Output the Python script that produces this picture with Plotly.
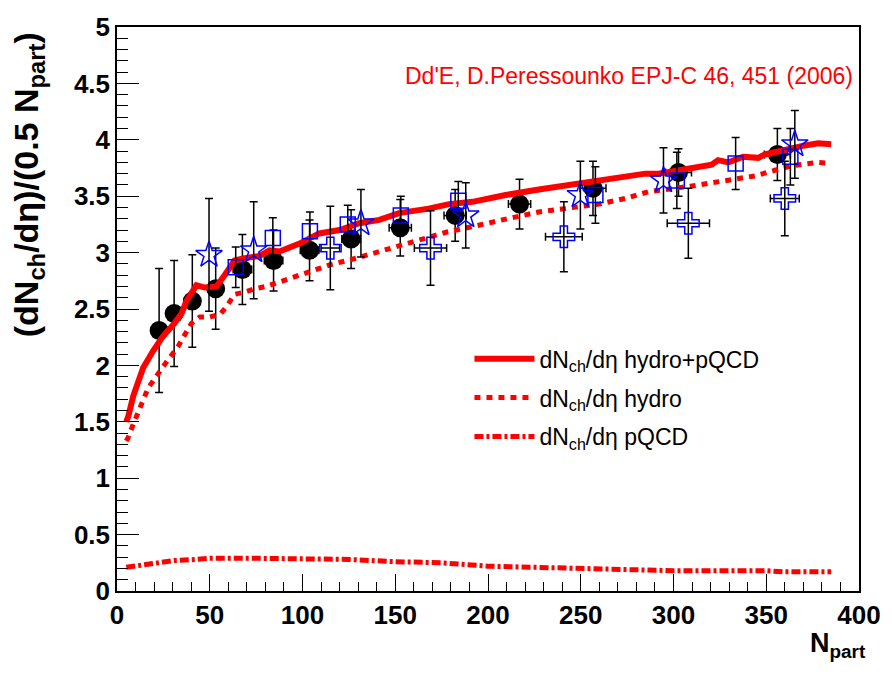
import plotly.graph_objects as go

# ---------------- data ----------------
# black filled circles
circ_x = [22.7, 30.8, 40.6, 53.2, 67.6, 84.4, 103.8, 126.2, 152.7, 182.3, 217.0, 256.6, 302.7, 356.0]
circ_y = [2.31, 2.46, 2.57, 2.68, 2.85, 2.93, 3.02, 3.12, 3.22, 3.33, 3.43, 3.57, 3.71, 3.87]
circ_ey = [0.55, 0.47, 0.41, 0.36, 0.31, 0.27, 0.27, 0.26, 0.25, 0.23, 0.22, 0.24, 0.21, 0.23]
circ_ex = [3, 3, 4, 4, 5, 5, 5, 5, 6, 6, 6, 7, 7, 7]

# blue open stars
star_x = [49.6, 73.7, 131.5, 188.0, 249.8, 294.6, 365.4]
star_y = [2.98, 3.02, 3.26, 3.33, 3.51, 3.64, 3.96]
star_ey = [0.50, 0.43, 0.30, 0.29, 0.30, 0.29, 0.30]

# blue open squares
sq_x = [64.0, 84.0, 104.0, 124.4, 153.0, 184.0, 257.9, 301.8, 333.5, 363.0]
sq_y = [2.87, 3.13, 3.19, 3.25, 3.33, 3.46, 3.51, 3.64, 3.79, 3.85]
sq_ey = [0.18, 0.18, 0.17, 0.17, 0.17, 0.17, 0.25, 0.25, 0.23, 0.25]

# blue open crosses
cr_x = [115.0, 169.0, 240.9, 308.0, 360.0]
cr_y = [3.04, 3.04, 3.14, 3.26, 3.48]
cr_ey = [0.37, 0.33, 0.31, 0.31, 0.33]
cr_ex = [5.0, 8.7, 9.9, 11.4, 7.8]

# hydro + pQCD (solid)
tot_x = [5, 6.1, 8.8, 14.1, 19.5, 24.9, 30.3, 34.8, 37.4, 42.8, 47.3, 53.6, 58, 63.4, 68.8,
         76.9, 82.3, 87.6, 98.4, 109, 120, 130.6, 141.4, 152, 168, 179, 191.6, 202, 209.5,
         227.4, 243.5, 254, 270.4, 284.8, 292, 308, 320.6, 324, 329.6, 337.6, 345.7, 349.3,
         361.8, 370.8, 378, 385]
tot_y = [1.50, 1.55, 1.73, 1.98, 2.13, 2.26, 2.36, 2.46, 2.57, 2.71, 2.69, 2.70, 2.80, 2.93, 2.95,
         2.97, 3.02, 3.01, 3.08, 3.17, 3.20, 3.26, 3.29, 3.35, 3.39, 3.43, 3.45, 3.49, 3.51,
         3.56, 3.60, 3.63, 3.67, 3.70, 3.70, 3.75, 3.78, 3.82, 3.80, 3.85, 3.84, 3.87,
         3.92, 3.95, 3.97, 3.96]

# hydro (dashed)
hyd_x = [5, 6, 8.8, 13, 16.8, 24.9, 33, 40, 44.6, 50, 55.4, 59, 63.4, 68.8, 74.2, 80.5,
         91.2, 103.8, 114.5, 128.9, 141.4, 159.3, 177.3, 191.6, 204, 210.4, 227.4, 241.8,
         259.7, 274, 286.6, 309.8, 322.4, 333.2, 344, 354.7, 363.6, 378, 385]
hyd_y = [1.33, 1.36, 1.48, 1.66, 1.80, 1.99, 2.17, 2.37, 2.43, 2.43, 2.45, 2.52, 2.63, 2.65, 2.68, 2.70,
         2.76, 2.84, 2.89, 2.95, 3.01, 3.10, 3.18, 3.23, 3.28, 3.30, 3.36, 3.39,
         3.43, 3.48, 3.54, 3.59, 3.62, 3.65, 3.68, 3.73, 3.77, 3.80, 3.79]

# pQCD (dash-dot)
pq_x = [5, 17, 31, 43, 50, 75, 100, 125, 150, 175, 200, 225, 250, 275, 300, 350, 360, 385]
pq_y = [0.21, 0.24, 0.27, 0.28, 0.29, 0.29, 0.29, 0.28, 0.26, 0.25, 0.22, 0.21, 0.20, 0.19, 0.18, 0.18, 0.17, 0.17]

leg_tot = "dN<sub>ch</sub>/dη hydro+pQCD"
leg_hyd = "dN<sub>ch</sub>/dη hydro"
leg_pq = "dN<sub>ch</sub>/dη pQCD"
ref_text = "Dd'E, D.Peressounko EPJ-C 46, 451 (2006)"
x_title = "N<sub>part</sub>"
y_title = "(dN<sub>ch</sub>/dη)/(0.5 N<sub>part</sub>)"

# ---------------- figure ----------------
FONT = "Liberation Sans, Arial, Helvetica, sans-serif"
RED = "#ff0000"
BLUE = "#0000ff"

fig = go.Figure()

def err(arr, w=4):
    return dict(type="data", array=arr, visible=True, color="black", thickness=1.5, width=w)

fig.add_trace(go.Scatter(
    x=circ_x, y=circ_y, mode="markers", showlegend=False,
    marker=dict(symbol="circle", size=19, color="black"),
    error_y=err(circ_ey), error_x=err(circ_ex)))

fig.add_trace(go.Scatter(x=tot_x, y=tot_y, mode="lines", name=leg_tot, legendgroup="a",
                         line=dict(color=RED, width=6)))
fig.add_trace(go.Scatter(x=hyd_x, y=hyd_y, mode="lines", name=leg_hyd, legendgroup="b",
                         line=dict(color=RED, width=5, dash="6px,6px")))
fig.add_trace(go.Scatter(x=pq_x, y=pq_y, mode="lines", name=leg_pq, legendgroup="c",
                         line=dict(color=RED, width=5, dash="9px,3px,3px,3px")))

fig.add_trace(go.Scatter(
    x=sq_x, y=sq_y, mode="markers", showlegend=False,
    marker=dict(symbol="square-open", size=15, color=BLUE, line=dict(width=1.5, color=BLUE)),
    error_y=err(sq_ey)))
fig.add_trace(go.Scatter(
    x=star_x, y=star_y, mode="markers", showlegend=False,
    marker=dict(symbol="star-open", size=20, color=BLUE, line=dict(width=1.5, color=BLUE)),
    error_y=err(star_ey)))
fig.add_trace(go.Scatter(
    x=cr_x, y=cr_y, mode="markers", showlegend=False,
    marker=dict(symbol="cross-open", size=18, color=BLUE, line=dict(width=1.5, color=BLUE)),
    error_y=err(cr_ey), error_x=err(cr_ex)))

axis_common = dict(
    showline=True, linecolor="black", linewidth=1.5, mirror=True,
    showgrid=False, zeroline=False, ticks="inside", tickcolor="black", tickwidth=1.2,
    tickfont=dict(family=FONT, size=26, color="black", weight="bold"),
)

fig.update_xaxes(range=[0, 400], dtick=50, tick0=0, ticklen=17,
                 minor=dict(dtick=10, ticks="inside", ticklen=9, tickcolor="black", tickwidth=1.2),
                 **axis_common)
fig.update_yaxes(range=[0, 5], dtick=0.5, tick0=0, ticklen=22,
                 minor=dict(dtick=0.1, ticks="inside", ticklen=11, tickcolor="black", tickwidth=1.2),
                 **axis_common)

fig.add_annotation(text=ref_text, xref="paper", yref="paper", x=0.994, y=0.913,
                   xanchor="right", yanchor="middle", showarrow=False,
                   font=dict(family=FONT, size=23, color=RED))
fig.add_annotation(text=y_title, xref="paper", yref="paper", x=-0.12, y=0.995,
                   xanchor="center", yanchor="top", textangle=-90, showarrow=False,
                   font=dict(family=FONT, size=34, color="black", weight="bold"))
fig.add_annotation(text=x_title, xref="paper", yref="paper", x=0.972, y=-0.095,
                   xanchor="center", yanchor="middle", showarrow=False,
                   font=dict(family=FONT, size=27, color="black", weight="bold"))

fig.update_layout(
    width=893, height=678,
    margin=dict(l=117, r=32, t=24, b=87),
    paper_bgcolor="white", plot_bgcolor="white",
    legend=dict(x=0.475, y=0.45, xanchor="left", yanchor="top",
                bgcolor="rgba(0,0,0,0)", borderwidth=0, tracegroupgap=6,
                itemwidth=60,
                font=dict(family=FONT, size=23, color="black")),
)

fig.write_html("out.html")
